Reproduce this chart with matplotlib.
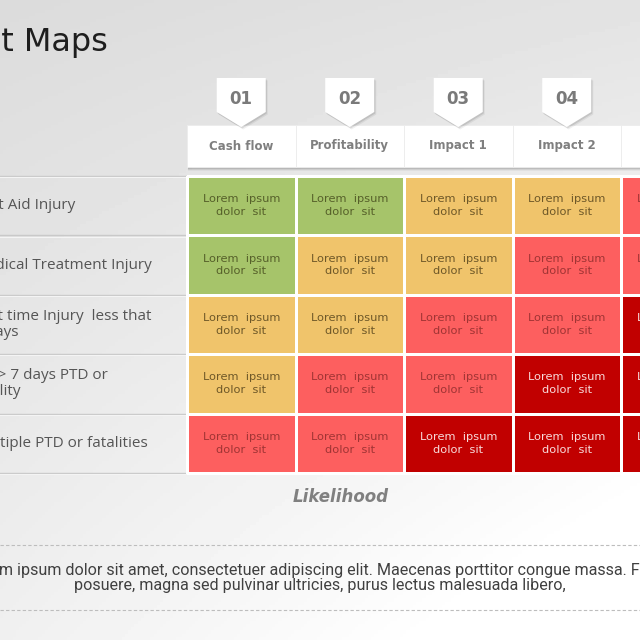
import numpy as np
import matplotlib.pyplot as plt
from matplotlib.colors import ListedColormap, BoundaryNorm
from matplotlib.patches import Rectangle, Polygon

# data
title = "Heat Maps"
columns = ["Cash flow", "Profitability", "Impact 1", "Impact 2", "Impact 3"]
badges = ["01", "02", "03", "04", "05"]
rows = [
    "First Aid Injury",
    "Medical Treatment Injury",
    "Lost time Injury  less that\n7 days",
    "LTI > 7 days PTD or\nfatality",
    "Multiple PTD or fatalities",
]
# 1 = low (green), 2 = medium (amber), 3 = high (light red), 4 = extreme (dark red)
levels = np.array([
    [1, 1, 2, 2, 3],
    [1, 2, 2, 3, 3],
    [2, 2, 3, 3, 4],
    [2, 3, 3, 4, 4],
    [3, 3, 4, 4, 4],
])
cell_text = "Lorem  ipsum\ndolor  sit"
axis_label = "Likelihood"
footer = ("Lorem ipsum dolor sit amet, consectetuer adipiscing elit. Maecenas porttitor congue massa. Fusce\n"
          "posuere, magna sed pulvinar ultricies, purus lectus malesuada libero,")

level_colors = ["#a6c46a", "#f0c46b", "#fd5f5f", "#c10000"]
level_text = ["#56602a", "#6e5828", "#a03434", "#f8dada"]

# layout (pixels)
grid_left, grid_top = 187, 176
cell_w, cell_h = 108.5, 59.4
n_rows, n_cols = levels.shape

fig = plt.figure(figsize=(6.4, 6.4), dpi=100)
ax = fig.add_axes([0, 0, 1, 1])
ax.set_xlim(0, 640)
ax.set_ylim(640, 0)
ax.axis("off")

# soft grey gradient background
yy, xx = np.mgrid[0:1:200j, 0:1:200j]
grad = 0.86 + 0.08 * yy + 0.06 * xx * yy + 0.03 * xx
ax.imshow(np.clip(grad, 0, 1), cmap="gray", vmin=0, vmax=1,
          extent=(0, 640, 640, 0), aspect="auto", zorder=0)

# title
ax.text(108, 43, title, ha="right", va="center", fontsize=23,
        color="#1e1e1e", family="DejaVu Sans")

col_edges = grid_left + cell_w * np.arange(n_cols + 1)
row_edges = grid_top + cell_h * np.arange(n_rows + 1)

# heat cells
cmap = ListedColormap(level_colors)
norm = BoundaryNorm([0.5, 1.5, 2.5, 3.5, 4.5], cmap.N)
ax.pcolormesh(col_edges, row_edges, levels, cmap=cmap, norm=norm,
              edgecolors="white", linewidth=1.0, zorder=2)

for i in range(n_rows):
    cy = (row_edges[i] + row_edges[i + 1]) / 2
    for j in range(n_cols):
        cx = (col_edges[j] + col_edges[j + 1]) / 2
        ax.text(cx, cy, cell_text, ha="center", va="center", fontsize=8.2,
                linespacing=1.35, color=level_text[levels[i, j] - 1],
                family="DejaVu Sans", zorder=3)

# row label separators and labels
for y in row_edges:
    ax.plot([0, grid_left], [y, y], color="#c9c9c9", lw=1.0, zorder=1)
    ax.plot([0, grid_left], [y + 1.2, y + 1.2], color="#f4f4f4", lw=0.8, zorder=1)
for i, label in enumerate(rows):
    cy = (row_edges[i] + row_edges[i + 1]) / 2
    ax.text(-27, cy, label, ha="left", va="center", fontsize=11,
            color="#555555", family="Open Sans", linespacing=1.1, zorder=3)

# column headers with drop shadow
hdr_top, hdr_bot = 125, 167
for j, name in enumerate(columns):
    x0 = col_edges[j]
    for k, a in enumerate([0.10, 0.07, 0.04]):
        ax.add_patch(Rectangle((x0 + 1, hdr_top + 2 + k), cell_w, hdr_bot - hdr_top,
                               facecolor="black", alpha=a, lw=0, zorder=2))
    ax.add_patch(Rectangle((x0, hdr_top), cell_w, hdr_bot - hdr_top,
                           facecolor="white", edgecolor="#ececec", lw=0.6, zorder=3))
    cx = x0 + cell_w / 2
    ax.text(cx, 146, name, ha="center", va="center", fontsize=8.5,
            fontweight="bold", color="#7f7f7f", family="DejaVu Sans", zorder=4)

    # numbered pentagon badge
    bw, b_top, b_rect, b_tip = 49, 78, 112, 127
    pts = [(cx - bw / 2, b_top), (cx + bw / 2, b_top), (cx + bw / 2, b_rect),
           (cx, b_tip), (cx - bw / 2, b_rect)]
    for k, a in enumerate([0.10, 0.06]):
        sh = [(px + 1 + k, py + 1.5 + k) for px, py in pts]
        ax.add_patch(Polygon(sh, closed=True, facecolor="black", alpha=a, lw=0, zorder=4))
    ax.add_patch(Polygon(pts, closed=True, facecolor="white", lw=0, zorder=5))
    ax.text(cx, 99, badges[j], ha="center", va="center", fontsize=12,
            fontweight="bold", color="#7a7a7a", family="DejaVu Sans", zorder=6)

# axis caption
ax.text(341, 497, axis_label, ha="center", va="center", fontsize=12,
        fontweight="bold", fontstyle="italic", color="#808080",
        family="DejaVu Sans", zorder=3)

# footer between dashed rules
for y in (545, 610):
    ax.plot([0, 640], [y, y], color="#bdbdbd", lw=0.8, ls=(0, (3, 2)), zorder=1)
ax.text(320, 578, footer, ha="center", va="center", fontsize=11.6,
        color="#404040", family="Roboto", linespacing=1.05, zorder=3)

fig.savefig("out.png", dpi=100)
